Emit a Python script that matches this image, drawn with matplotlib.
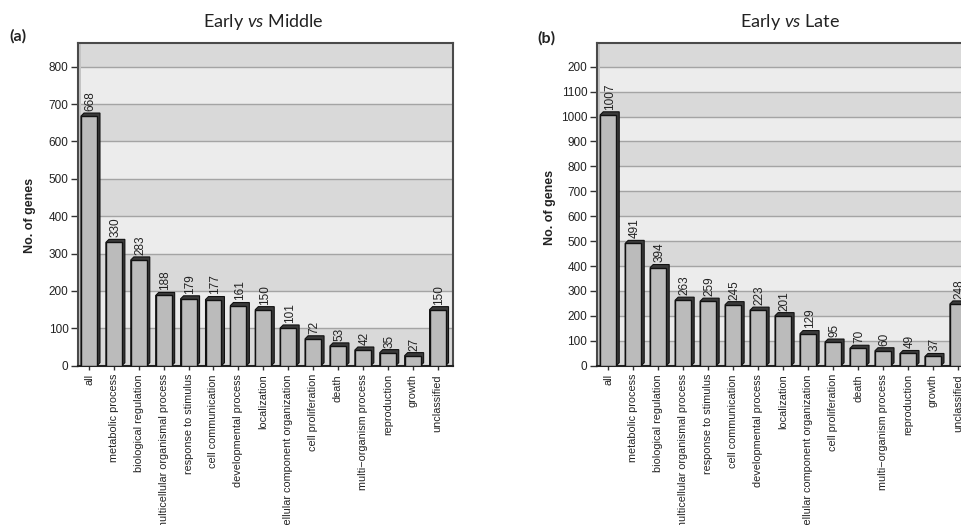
import matplotlib
matplotlib.use("Agg")
import matplotlib.pyplot as plt
from matplotlib.patches import Polygon, Rectangle

categories = ["all", "metabolic process", "biological regulation",
              "multicellular organismal process", "response to stimulus",
              "cell communication", "developmental process", "localization",
              "cellular component organization", "cell proliferation", "death",
              "multi\u2212organism process", "reproduction", "growth", "unclassified"]
early_vs_middle = [668, 330, 283, 188, 179, 177, 161, 150, 101, 72, 53, 42, 35, 27, 150]
early_vs_late = [1007, 491, 394, 263, 259, 245, 223, 201, 129, 95, 70, 60, 49, 37, 248]

ticks_a = [0, 100, 200, 300, 400, 500, 600, 700, 800]
ticklabels_a = ["0", "100", "200", "300", "400", "500", "600", "700", "800"]
ticks_b = [0, 100, 200, 300, 400, 500, 600, 700, 800, 900, 1000, 1100, 1200]
ticklabels_b = ["0", "100", "200", "300", "400", "500", "600", "700", "800",
                "900", "1000", "1100", "200"]

plt.rcParams["mathtext.fontset"] = "custom"
plt.rcParams["mathtext.rm"] = "Lato"
plt.rcParams["mathtext.it"] = "Lato:italic"

W, H = 961, 525
fig = plt.figure(figsize=(W / 100, H / 100), dpi=100)
fig.patch.set_facecolor("white")

TICK_FONT = "Liberation Sans"


def draw_panel(rect, values, ticks, ticklabels, ytop, xlim, title, title_x, tag, tag_xy, ylab_xy):
    ax = fig.add_axes(rect)
    ax.set_xlim(*xlim)
    ax.set_ylim(0, ytop)
    ax.set_facecolor("#ececec")

    # alternating bands on the back wall
    step = ticks[1] - ticks[0]
    for lo in range(0, int(ytop) + step, step):
        if (lo // step) % 2 == 0:
            ax.axhspan(lo, min(lo + step, ytop), color="#d9d9d9", lw=0, zorder=0)
    for t in ticks[1:]:
        ax.axhline(t, color="#a4a4a4", lw=1.0, zorder=1)

    # left wall strip
    px_x = (xlim[1] - xlim[0]) / (rect[2] * W)
    px_y = ytop / (rect[3] * H)
    ax.axvspan(xlim[0], xlim[0] + 3 * px_x, color="#c4c4c4", lw=0, zorder=1)

    width = 0.64
    dx, dy = 3 * px_x, 3 * px_y
    xs = list(range(len(values)))
    for x, v in zip(xs, values):
        x0, x1 = x - width / 2, x + width / 2
        depth = Polygon([(x0, 0), (x0, v), (x0 + dx, v + dy), (x1 + dx, v + dy),
                         (x1 + dx, dy), (x1, 0)], closed=True,
                        facecolor="#3a3a3a", edgecolor="#111111", lw=0.8, zorder=3)
        ax.add_patch(depth)
        ax.add_patch(Rectangle((x0, 0), width, v, facecolor="#bbbbbb",
                               edgecolor="#111111", lw=1.0, zorder=4))
        ax.annotate(str(v), (x + dx / 2, v + dy), xytext=(0, 1.5), textcoords="offset points",
                    rotation=90, ha="center", va="bottom", fontsize=8.5,
                    family=TICK_FONT, color="#222222", zorder=5)

    ax.set_xticks(xs)
    ax.set_xticklabels(categories, rotation=90, fontsize=7.8, family=TICK_FONT,
                       color="#222222", va="top", ha="center")
    ax.set_yticks(ticks)
    ax.set_yticklabels(ticklabels, fontsize=8.5, family=TICK_FONT, color="#222222")
    ax.tick_params(axis="y", length=5, width=1, color="#333333", pad=2)
    ax.tick_params(axis="x", length=3, width=1, color="#333333", pad=3)

    for side in ("top", "right", "left"):
        ax.spines[side].set_color("#4a4a4a")
        ax.spines[side].set_linewidth(1.5)
    ax.spines["bottom"].set_color("#222222")
    ax.spines["bottom"].set_linewidth(1.5)

    fig.text(title_x / W, 1 - 22 / H, title, ha="center", va="center",
             fontsize=13, family="Lato", color="#222222")
    fig.text(tag_xy[0] / W, 1 - tag_xy[1] / H, tag, ha="center", va="center",
             fontsize=11.5, family="Lato", weight="bold", color="#222222")
    fig.text(ylab_xy[0] / W, 1 - ylab_xy[1] / H, "No. of genes", rotation=90,
             ha="center", va="center", fontsize=9, family=TICK_FONT,
             weight="bold", color="#222222")
    return ax


draw_panel([78.3 / W, 159.3 / H, 374.7 / W, 322.4 / H], early_vs_middle,
           ticks_a, ticklabels_a, 862.6, (-0.43, 14.62),
           r"Early $\mathit{vs}$ Middle", 263, "(a)", (18, 36), (30, 215))
draw_panel([597 / W, 159.3 / H, 374.7 / W, 322.4 / H], early_vs_late,
           ticks_b, ticklabels_b, 1294, (-0.45, 14.55),
           r"Early $\mathit{vs}$ Late", 790, "(b)", (546, 38), (550, 207))

fig.savefig("out.png", dpi=100)
